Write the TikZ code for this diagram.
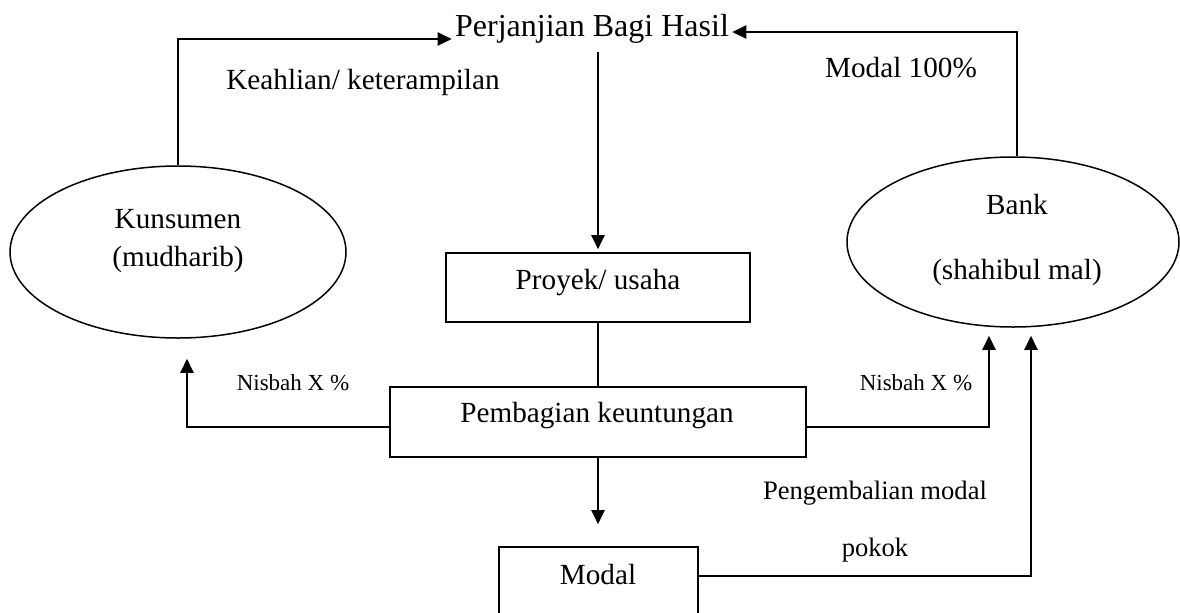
\documentclass[tikz,border=0pt]{standalone}
\usepackage{fontspec}
\setmainfont{Liberation Serif}
\usetikzlibrary{arrows.meta,shapes.geometric,positioning}
\newcommand{\txtbig}{\fontsize{16pt}{19pt}\selectfont}
\newcommand{\txtmid}{\fontsize{14.6pt}{19pt}\selectfont}
\newcommand{\txtlow}{\fontsize{13.3pt}{16pt}\selectfont}
\newcommand{\txtsml}{\fontsize{11.5pt}{14pt}\selectfont}
\tikzset{oval/.style={draw,ellipse,line width=.75pt,inner sep=0pt},
  box/.style={draw,rectangle,line width=.8pt,inner sep=0pt},
  link/.style={line width=1pt},
  arr/.style={link,-{Triangle[length=7pt,width=6.5pt]}},
  lbl/.style={font=\txtmid,inner sep=0pt}}

\begin{document}
\begin{tikzpicture}[x=.5pt,y=-.5pt]
\useasboundingbox (0,0) rectangle (1180,612);
% ovals
\node[oval,minimum width=168pt,minimum height=86pt] (kons) at (178,252){};
\node[lbl,align=center] (konstxt) at (178,241){Kunsumen\\(mudharib)};
\node[oval,minimum width=166pt,minimum height=85pt] (bank) at (1013,242){};
\node[lbl,align=center] (banktxt) at (1017,240){Bank\\[13.5pt](shahibul mal)};
% boxes
\node[font=\txtbig,inner sep=1.5pt,anchor=base] (perj) at (592,36){Perjanjian Bagi Hasil};
\node[box,minimum width=152pt,minimum height=34.5pt] (proj) at (598,287.5){};
\node[lbl] (projtxt) at (598,283){Proyek/ usaha};
\node[box,minimum width=208pt,minimum height=35pt] (bagi) at (598,422){};
\node[lbl] (bagitxt) at (597,416){Pembagian keuntungan};
\node[box,minimum width=99.5pt,minimum height=36.5pt] (modal) at (598.5,583.5){};
\node[lbl] (modaltxt) at (598,575){Modal};
% connectors
\draw[arr] (kons.north) |- ([yshift=-1.5pt]perj.base west);
\draw[arr] ([xshift=2pt]bank.north) |- ([yshift=2pt]perj.base east);
\draw[arr,shorten <=3pt,shorten >=1.5pt] (proj.north |- perj.south) -- (proj.north);
\draw[link] (proj.south) -- (bagi.north);
\draw[arr,shorten >=10pt] ([yshift=-2.5pt]bagi.west) -| ([xshift=4.5pt]kons.south);
\draw[arr,shorten >=4pt] ([yshift=-2.5pt]bagi.east) -| ([xshift=-12pt]bank.south);
\draw[arr,shorten >=11pt] (bagi.south) -- (bagi.south |- modal.north);
\draw[arr,shorten >=4pt] ([yshift=3.75pt]modal.east) -| ([xshift=9pt]bank.south);
% labels
\node[lbl] (keahlian) at (363,82){Keahlian/ keterampilan};
\node[lbl] (modal100) at (901,68){Modal 100\%};
\node[lbl,font=\txtsml] (nisbahL) at (293,383){Nisbah X \%};
\node[lbl,font=\txtsml] (nisbahR) at (916,383){Nisbah X \%};
\node[lbl,font=\txtlow] (kembali) at (875,493){Pengembalian modal};
\node[lbl,font=\txtlow] (pokok) at (875,550){pokok};
\end{tikzpicture}
\end{document}
